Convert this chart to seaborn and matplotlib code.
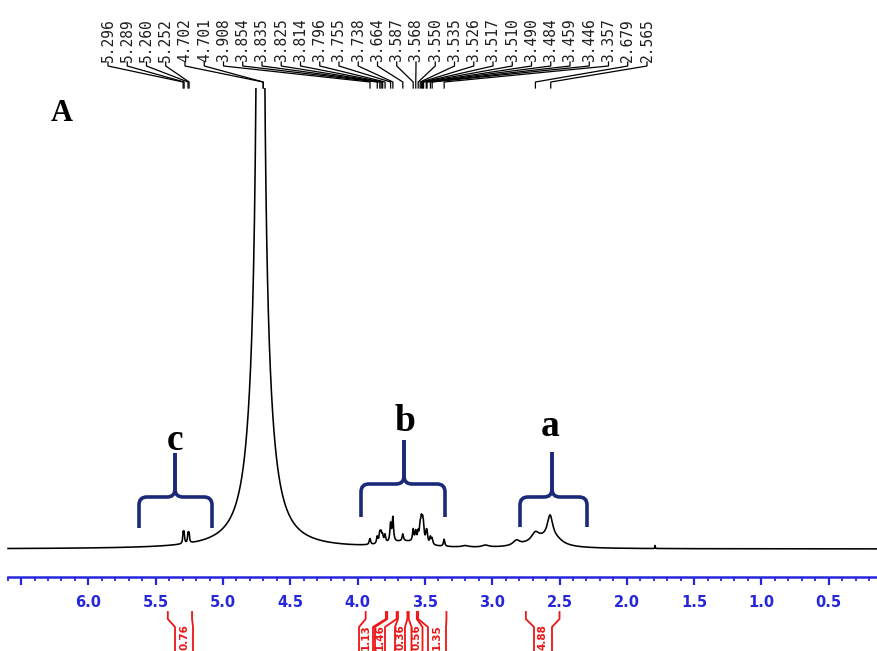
import numpy as np
import pandas as pd
import matplotlib
matplotlib.use("Agg")
import matplotlib.pyplot as plt
import seaborn as sns
from matplotlib.path import Path
from matplotlib.patches import PathPatch, Rectangle
from matplotlib.ticker import MultipleLocator, FuncFormatter

# ---------------- data ----------------
# spectrum peaks (ppm, height in arbitrary units, half width at half max in ppm)
peak_ppm = [4.722, 4.722,
            5.296, 5.289, 5.260, 5.252,
            3.908, 3.854, 3.835, 3.825, 3.814, 3.796, 3.755, 3.738, 3.664,
            3.587, 3.568, 3.550, 3.535, 3.526, 3.517, 3.510, 3.490, 3.484,
            3.459, 3.446, 3.357, 3.650,
            3.20, 3.05, 2.82, 2.68, 2.57, 2.64, 2.52, 1.79]
peak_height = [8000, 250,
               10, 10, 9, 9,
               6, 7, 10, 9, 7, 8, 18, 24, 7,
               12, 10, 9, 14, 18, 16, 12, 8, 9,
               7, 6, 7, 6,
               1.5, 2, 5, 7, 24, 9, 4, 3]
peak_hwhm = [0.006, 0.075,
             0.004, 0.004, 0.004, 0.004,
             0.006, 0.006, 0.006, 0.006, 0.006, 0.006, 0.006, 0.006, 0.006,
             0.006, 0.006, 0.006, 0.006, 0.006, 0.006, 0.006, 0.006, 0.006,
             0.006, 0.006, 0.006, 0.15,
             0.03, 0.03, 0.03, 0.03, 0.025, 0.12, 0.06, 0.002]

shift_labels = ["5.296", "5.289", "5.260", "5.252", "4.702", "4.701", "3.908",
                "3.854", "3.835", "3.825", "3.814", "3.796", "3.755", "3.738",
                "3.664", "3.587", "3.568", "3.550", "3.535", "3.526", "3.517",
                "3.510", "3.490", "3.484", "3.459", "3.446", "3.357", "2.679",
                "2.565"]

integral_values = ["0.76", "1.13", "1.46", "0.36", "0.56", "1.35", "4.88"]
integral_start = [5.41, 3.94, 3.78, 3.70, 3.62, 3.55, 2.75]
integral_end = [5.23, 3.79, 3.71, 3.63, 3.56, 3.34, 2.50]

group_names = ["c", "b", "a"]
panel_label = "A"

# ---------------- layout helpers (pixel -> data) ----------------
PX0, PXPPM, BASE = 896.0, 134.6, 549.0


def X(px):
    return (PX0 - px) / PXPPM


def Y(py):
    return BASE - py


fig = plt.figure(figsize=(8.77, 6.51), dpi=100)
ax = fig.add_axes([0, 0, 1, 1])
ax.set_xlim(X(0), X(877))
ax.set_ylim(Y(651), Y(0))

# ---------------- spectrum ----------------
ppm = np.arange(X(877), X(8), 0.0004)
inten = np.zeros_like(ppm)
for c, h, w in zip(peak_ppm, peak_height, peak_hwhm):
    inten += h * w ** 2 / ((ppm - c) ** 2 + w ** 2)
df = pd.DataFrame({"ppm": ppm, "intensity": inten})
sns.lineplot(data=df, x="ppm", y="intensity", ax=ax, color="black",
             linewidth=1.15, estimator=None, sort=False)
line = ax.lines[-1]
clip = Rectangle((X(877), Y(700)), X(0) - X(877), Y(88) - Y(700),
                 transform=ax.transData)
line.set_clip_path(clip)

# ---------------- axis ----------------
blue = "#2626dc"
for s in ["top", "left", "right"]:
    ax.spines[s].set_visible(False)
ax.spines["bottom"].set_position(("data", Y(577)))
ax.spines["bottom"].set_bounds(X(8), X(877))
ax.spines["bottom"].set_color(blue)
ax.spines["bottom"].set_linewidth(1.8)
ax.set_yticks([])
ax.xaxis.set_major_locator(MultipleLocator(0.5))
ax.xaxis.set_minor_locator(MultipleLocator(0.1))
ax.xaxis.set_major_formatter(FuncFormatter(
    lambda v, p: "" if v > 6.25 else f"{v:.1f}"))
ax.tick_params(axis="x", which="major", direction="out", length=5.8,
               width=1.6, color=blue, labelcolor=blue, pad=7,
               labelsize=10.5)
ax.tick_params(axis="x", which="minor", direction="out", length=2.9,
               width=1.3, color=blue)
for t in ax.get_xticklabels():
    t.set_fontweight("bold")
ax.set_xlabel("")
ax.set_ylabel("")

# ---------------- peak shift labels ----------------
label_px = np.linspace(108, 647, len(shift_labels))
for lp, s in zip(label_px, shift_labels):
    v = float(s)
    ax.text(X(lp), Y(62), s, rotation=90, ha="center", va="bottom",
            family="DejaVu Sans Mono", fontsize=10.5, color="#1e1e1e")
    ax.plot([X(lp), X(lp), v, v], [Y(62), Y(66), Y(82), Y(88)],
            color="black", lw=0.9, solid_joinstyle="miter")

# ---------------- braces ----------------
navy = "#1b2a78"
braces = [(139, 212, 175, 528, 497, 453),
          (361, 445, 404, 517, 484, 440),
          (520, 587, 552, 527, 497, 452)]
r = 8
for (xl, xr, xc, yb, yt, yc) in braces:
    for xe, sgn in [(xl, 1), (xr, -1)]:
        verts = [(xe, yb), (xe, yt + r), (xe, yt), (xe + sgn * r, yt),
                 (xc - sgn * r, yt), (xc, yt), (xc, yt - r), (xc, yc)]
        codes = [Path.MOVETO, Path.LINETO, Path.CURVE3, Path.CURVE3,
                 Path.LINETO, Path.CURVE3, Path.CURVE3, Path.LINETO]
        verts = [(X(a), Y(b)) for a, b in verts]
        ax.add_patch(PathPatch(Path(verts, codes), fill=False,
                               edgecolor=navy, lw=2.6, capstyle="butt"))

letter_pos = [(175, 450), (405, 431), (550, 436)]
for (lx, ly), name in zip(letter_pos, group_names):
    ax.text(X(lx), Y(ly), name, ha="center", va="baseline",
            family="Liberation Serif", fontweight="bold", fontsize=27,
            color="black")
ax.text(X(62), Y(121), panel_label, ha="center", va="baseline",
        family="Liberation Serif", fontweight="bold", fontsize=22,
        color="black")

# ---------------- integrals ----------------
red = "#ee1515"
box_center = [184, 366, 380, 400, 417, 437, 543]
box_half = [9, 7, 5, 5, 5.5, 9, 9]
for v, a, b, bc, bh in zip(integral_values, integral_start, integral_end,
                          box_center, box_half):
    for edge, bx in [(a, bc - bh), (b, bc + bh)]:
        ax.plot([edge, edge, X(bx), X(bx)], [Y(612), Y(619), Y(627), Y(670)],
                color=red, lw=1.3)
    ax.text(X(bc), Y(637), v, rotation=90, ha="center", va="center",
            family="DejaVu Sans", fontweight="bold", fontsize=7.5, color=red)

fig.savefig("out.png", dpi=100)
